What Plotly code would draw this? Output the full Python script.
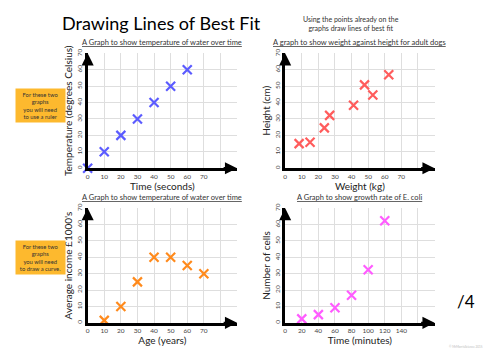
import plotly.graph_objects as go

FONT = "Lato"

# ---------------- data ----------------
water_time = [0, 10, 20, 30, 40, 50, 60]
water_temp = [0, 10, 20, 30, 40, 50, 60]

dog_weight = [8.4, 15, 23.6, 26.8, 41.2, 47.8, 52.8, 62.4]
dog_height = [15, 15.8, 24.6, 32.2, 38.4, 50.8, 44.6, 57]

age_years = [10, 20, 30, 40, 50, 60, 70]
income_k = [1.5, 10, 25, 40, 40, 35, 30]

ecoli_time = [20, 40, 60, 80, 100, 120]
ecoli_cells = [2.4, 5, 9.2, 16.8, 32.4, 62.4]

ticks_70 = [0, 10, 20, 30, 40, 50, 60, 70, 80]
ticks_70_text = ["0", "10", "20", "30", "40", "50", "60", "70", ""]
ticks_140 = [0, 20, 40, 60, 80, 100, 120, 140, 160]
ticks_140_text = ["0", "20", "40", "60", "80", "100", "120", "140", ""]
y_ticks = [0, 10, 20, 30, 40, 50, 60, 70]
y_ticks_text = [str(v) for v in y_ticks]

panels = [
    dict(x=water_time, y=water_temp, color="#5b5bff",
         title="A Graph to show temperature of water over time",
         xt="Time (seconds)", yt="Temperature (degrees Celsius)",
         xr=[0, 90], xtv=ticks_70, xtt=ticks_70_text,
         xd=[0.172, 0.472], yd=[0.531, 0.861]),
    dict(x=dog_weight, y=dog_height, color="#ff5c5c",
         title="A graph to show weight against height for adult dogs",
         xt="Weight (kg)", yt="Height (cm)",
         xr=[0, 90], xtv=ticks_70, xtt=ticks_70_text,
         xd=[0.5686, 0.8686], yd=[0.531, 0.861]),
    dict(x=age_years, y=income_k, color="#ff8a1c",
         title="A Graph to show temperature of water over time",
         xt="Age (years)", yt="Average income £1000's",
         xr=[0, 90], xtv=ticks_70, xtt=ticks_70_text,
         xd=[0.172, 0.472], yd=[0.0867, 0.416]),
    dict(x=ecoli_time, y=ecoli_cells, color="#ff5cff",
         title="A Graph to show growth rate of E. coli",
         xt="Time (minutes)", yt="Number of cells",
         xr=[0, 180], xtv=ticks_140, xtt=ticks_140_text,
         xd=[0.5686, 0.8686], yd=[0.0867, 0.416]),
]

fig = go.Figure()
annotations = []
layout_axes = {}

for i, p in enumerate(panels, start=1):
    xa = "x" if i == 1 else f"x{i}"
    ya = "y" if i == 1 else f"y{i}"
    fig.add_trace(go.Scatter(
        x=p["x"], y=p["y"], mode="markers", xaxis=xa, yaxis=ya,
        marker=dict(symbol="x-thin-open", size=9, color=p["color"],
                    line=dict(width=2.2, color=p["color"])),
        showlegend=False, cliponaxis=False, hoverinfo="skip"))
    xkey = "xaxis" if i == 1 else f"xaxis{i}"
    ykey = "yaxis" if i == 1 else f"yaxis{i}"
    layout_axes[xkey] = dict(
        domain=p["xd"], range=p["xr"], anchor=ya,
        tickmode="array", tickvals=p["xtv"], ticktext=p["xtt"],
        showgrid=True, gridcolor="#dedede", gridwidth=1.3,
        zeroline=False, showline=True, linecolor="black", linewidth=2.5,
        ticks="", tickfont=dict(family=FONT, size=6.5, color="#444"),
        title=dict(text=p["xt"], font=dict(family=FONT, size=10, color="#222"),
                   standoff=1),
        fixedrange=True)
    layout_axes[ykey] = dict(
        domain=p["yd"], range=[0, 70], anchor=xa,
        tickmode="array", tickvals=y_ticks, ticktext=y_ticks_text,
        tickangle=-90,
        showgrid=True, gridcolor="#dedede", gridwidth=1.3,
        zeroline=False, showline=True, linecolor="black", linewidth=2.5,
        ticks="", tickfont=dict(family=FONT, size=6.5, color="#444"),
        title=dict(text=p["yt"], font=dict(family=FONT, size=10, color="#222"),
                   standoff=2),
        fixedrange=True)
    # arrow heads on axes
    annotations.append(dict(
        xref=f"{xa} domain", yref=f"{ya} domain", x=1, y=0,
        axref=f"{xa} domain", ayref=f"{ya} domain", ax=0.9, ay=0,
        showarrow=True, arrowhead=2, arrowsize=1.1, arrowwidth=2.2,
        arrowcolor="black", text=""))
    annotations.append(dict(
        xref=f"{xa} domain", yref=f"{ya} domain", x=0, y=1.0,
        axref=f"{xa} domain", ayref=f"{ya} domain", ax=0, ay=0.9,
        showarrow=True, arrowhead=2, arrowsize=1.1, arrowwidth=2.2,
        arrowcolor="black", text=""))
    # panel title
    annotations.append(dict(
        xref=f"{xa} domain", yref=f"{ya} domain",
        x=0.5, y=1.0, yshift=11, xanchor="center", yanchor="middle",
        showarrow=False,
        text=f"<u>{p['title']}</u>",
        font=dict(family=FONT, size=7.5, color="#333")))

C = dict(xanchor="center", yanchor="middle", showarrow=False,
         xref="paper", yref="paper")
annotations += [
    dict(C, x=160 / 500, y=1 - 18.5 / 354,
         text="Drawing Lines of Best Fit",
         font=dict(family=FONT, size=18, color="black")),
    dict(C, x=350 / 500, y=1 - 18.5 / 354,
         text="Using the points already on the<br>graphs draw lines of best fit",
         font=dict(family=FONT, size=7, color="#333")),
    dict(C, x=38.5 / 500, y=1 - 102.5 / 354,
         text="For these two<br>graphs<br>you will need<br>to use a ruler",
         bgcolor="#fdb92e", width=47, height=31,
         font=dict(family=FONT, size=5.8, color="#333")),
    dict(C, x=38.5 / 500, y=1 - 257 / 354,
         text="For these two<br>graphs<br>you will need<br>to draw a curve.",
         bgcolor="#fdb92e", width=47, height=31,
         font=dict(family=FONT, size=5.8, color="#333")),
    dict(C, x=466 / 500, y=1 - 302 / 354,
         text="/4", font=dict(family=FONT, size=17, color="black")),
    dict(C, x=466 / 500, y=1 - 347 / 354,
         text="© MrMorrisScience 2015", font=dict(family=FONT, size=3, color="#bbb")),
]

fig.update_layout(
    width=500, height=354,
    margin=dict(l=0, r=0, t=0, b=0),
    paper_bgcolor="white", plot_bgcolor="white",
    annotations=annotations,
    **layout_axes)

fig.write_html("out.html", config={"displayModeBar": False})
